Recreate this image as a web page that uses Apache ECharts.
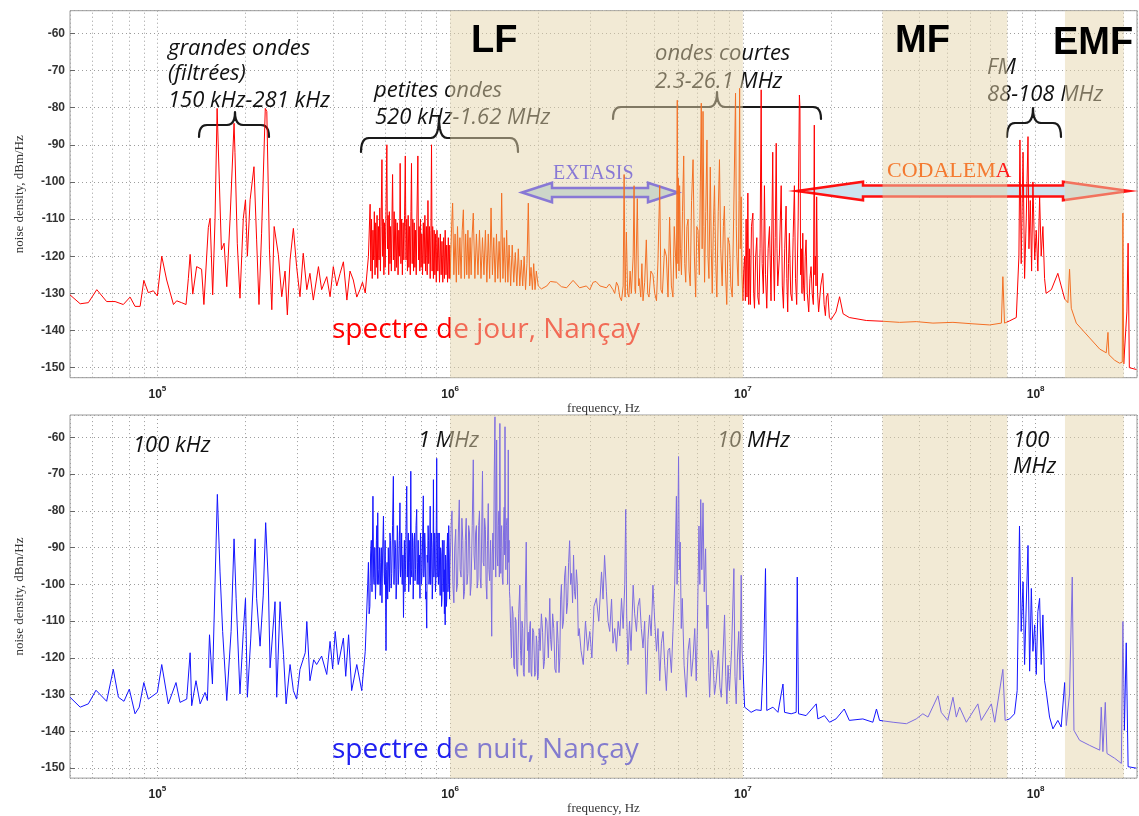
<!DOCTYPE html>
<html>
<head>
<meta charset="utf-8">
<script src="https://cdn.jsdelivr.net/npm/echarts@6/dist/echarts.min.js"></script>
<style>
  html, body { margin: 0; padding: 0; background: #fff; }
  #chart { width: 1139px; height: 816px; }
</style>
</head>
<body>
<div id="chart"></div>
<script>
// frequency axis range (Hz) and level range (dBm/Hz)
var freqMin = 5.03e4, freqMax = 2.22e8;
var levelMin = -152.7, levelMax = -53.9;

// shaded bands (LF, MF, EMF)
var bands = [[1e6, 1e7], [3e7, 8e7], [1.26e8, 2e8]];

// day spectrum [Hz, dBm/Hz]
var dayLow = [
    [5.03e4,-130.4],[5.45e4,-132.8],[5.81e4,-132.5],[6.21e4,-129],[6.71e4,-132.2],[7.17e4,-132.2],
    [7.65e4,-133],[8.07e4,-131],[8.39e4,-133.5],[8.73e4,-133.5],[8.99e4,-126.5],[9.31e4,-129.8],
    [9.69e4,-129.3],[1.0e5,-130.7],[1.035e5,-120],[1.076e5,-126.4],[1.135e5,-133],[1.164e5,-132],
    [1.21e5,-132.5],[1.253e5,-133],[1.276e5,-126],[1.294e5,-119.5],[1.321e5,-130.2],[1.362e5,-122.8],
    [1.416e5,-123.5],[1.442e5,-133],[1.493e5,-112.3],[1.514e5,-109.8],[1.545e5,-130.4],[1.574e5,-110],
    [1.6e5,-80.2],[1.621e5,-80.7],[1.655e5,-118.3],[1.69e5,-116.5],[1.726e5,-128.2],[1.771e5,-110.2],
    [1.828e5,-84.2],[1.841e5,-92],[1.875e5,-116.5],[1.915e5,-131.3],[1.966e5,-109.8],[2.0e5,-104.8],
    [2.03e5,-120],[2.074e5,-104.8],[2.138e5,-95.9],[2.183e5,-115.6],[2.224e5,-133],[2.27e5,-113.8],
    [2.337e5,-80.2],[2.365e5,-81],[2.415e5,-118.3],[2.46e5,-134.4],[2.506e5,-112],[2.59e5,-119.6],
    [2.66e5,-130.9],[2.73e5,-124],[2.78e5,-135.8],[2.84e5,-121],[2.915e5,-112.5],[2.99e5,-122.8],
    [3.07e5,-130.9],[3.15e5,-119.2],[3.24e5,-129],[3.32e5,-124.6],[3.41e5,-131.8],[3.55e5,-122.8],
    [3.64e5,-129],[3.79e5,-125.5],[3.89e5,-130.9],[3.99e5,-122.8],[4.1e5,-128],[4.21e5,-124.6],
    [4.32e5,-121.5],[4.44e5,-131.8],[4.55e5,-124],[4.67e5,-126.4],[4.8e5,-131],[4.92e5,-129],
    [5.02e5,-127],[5.13e5,-129.9],[5.26e5,-120]
];
var dayMW = [
    [5.30e5,-120],[5.33e5,-106],[5.36e5,-124],[5.39e5,-110],[5.42e5,-126],[5.45e5,-113],[5.48e5,-121],
    [5.51e5,-108],[5.54e5,-125],[5.57e5,-111],[5.60e5,-123],[5.63e5,-109],[5.66e5,-126],[5.69e5,-112],
    [5.72e5,-121],[5.75e5,-107],[5.78e5,-124],[5.81e5,-112],[5.85e5,-94],[5.88e5,-120],[5.91e5,-110],
    [5.94e5,-125],[5.97e5,-111],[6.00e5,-123],[6.04e5,-108],[6.08e5,-90],[6.11e5,-118],[6.14e5,-109],
    [6.17e5,-125],[6.20e5,-108],[6.23e5,-122],[6.26e5,-112],[6.30e5,-124],[6.33e5,-110],[6.36e5,-98],
    [6.40e5,-121],[6.44e5,-108],[6.48e5,-124],[6.52e5,-110],[6.56e5,-123],[6.60e5,-111],[6.64e5,-125],
    [6.68e5,-113],[6.72e5,-120],[6.75e5,-95],[6.79e5,-122],[6.83e5,-110],[6.87e5,-125],[6.91e5,-111],
    [6.95e5,-121],[6.99e5,-109],[7.03e5,-93],[7.07e5,-121],[7.11e5,-110],[7.15e5,-124],[7.19e5,-109],
    [7.23e5,-123],[7.27e5,-112],[7.31e5,-125],[7.35e5,-108],[7.38e5,-95],[7.42e5,-122],[7.46e5,-110],
    [7.50e5,-124],[7.54e5,-111],[7.58e5,-123],[7.62e5,-113],[7.66e5,-125],[7.70e5,-110],[7.76e5,-93],
    [7.80e5,-121],[7.84e5,-112],[7.88e5,-124],[7.92e5,-110],[7.96e5,-123],[8.00e5,-114],[8.05e5,-125],
    [8.10e5,-111],[8.15e5,-122],[8.20e5,-109],[8.25e5,-124],[8.30e5,-112],[8.35e5,-125],[8.40e5,-105],
    [8.45e5,-122],[8.50e5,-112],[8.55e5,-126],[8.60e5,-113],[8.64e5,-90],[8.68e5,-124],[8.72e5,-112],
    [8.77e5,-126],[8.82e5,-113],[8.87e5,-125],[8.92e5,-114],[8.97e5,-127],[9.02e5,-113],[9.08e5,-124],
    [9.14e5,-115],[9.20e5,-127],[9.26e5,-114],[9.32e5,-125],[9.38e5,-116],[9.44e5,-127],[9.50e5,-115],
    [9.56e5,-126],[9.62e5,-113],[9.68e5,-125],[9.74e5,-117],[9.80e5,-127],[9.86e5,-115],[9.92e5,-126],
    [9.98e5,-117]
];
var dayLF = [
    [1.000e6,-126],[1.012e6,-112],[1.02e6,-105.7],[1.03e6,-125],[1.04e6,-114],[1.05e6,-127],[1.06e6,-112],
    [1.07e6,-125],[1.08e6,-115],[1.09e6,-126],[1.10e6,-113],[1.11e6,-107.5],[1.12e6,-126],[1.13e6,-114],
    [1.14e6,-125],[1.15e6,-113],[1.16e6,-126],[1.17e6,-115],[1.18e6,-125],[1.19e6,-114],[1.20e6,-108.4],
    [1.215e6,-126],[1.23e6,-114],[1.245e6,-125],[1.26e6,-113],[1.275e6,-126],[1.29e6,-115],[1.305e6,-125],
    [1.32e6,-113],[1.335e6,-127],[1.35e6,-114],[1.365e6,-126],[1.38e6,-107],[1.395e6,-125],[1.41e6,-115],
    [1.425e6,-127],[1.44e6,-114],[1.455e6,-126],[1.47e6,-116],[1.485e6,-127],[1.50e6,-103],[1.515e6,-126],
    [1.53e6,-115],[1.545e6,-127],[1.56e6,-113],[1.575e6,-127],[1.59e6,-117],[1.61e6,-128],[1.63e6,-117],
    [1.65e6,-127],[1.67e6,-119],[1.69e6,-128],[1.71e6,-118],[1.73e6,-128],[1.75e6,-121],[1.77e6,-128],
    [1.79e6,-120],[1.81e6,-129],[1.83e6,-122],[1.85e6,-105.7],[1.87e6,-128],[1.89e6,-123],[1.91e6,-129],
    [1.93e6,-122],[1.95e6,-129],[1.97e6,-124],[2.0e6,-128],
    [2.05e6,-128.8],[2.14e6,-128],[2.2e6,-126.8],[2.31e6,-127],[2.4e6,-128.2],[2.5e6,-128.5],
    [2.63e6,-126.5],[2.7e6,-127.5],[2.77e6,-128.5],[2.92e6,-128],[3.0e6,-129],[3.08e6,-127],[3.15e6,-126.8],
    [3.25e6,-128],[3.42e6,-128.5],[3.5e6,-127.5],[3.6e6,-129],
    [3.65e6,-130],[3.7e6,-127],[3.75e6,-128],[3.8e6,-131],[3.85e6,-132],[3.9e6,-128],[3.93e6,-98],
    [3.96e6,-131],[4.0e6,-113.5],[4.04e6,-130],[4.08e6,-131],[4.12e6,-124],[4.16e6,-130],[4.22e6,-120],
    [4.25e6,-101],[4.28e6,-129],[4.3e6,-130],[4.36e6,-104.5],[4.4e6,-128],[4.42e6,-126],[4.48e6,-131],
    [4.52e6,-122],[4.56e6,-132],[4.62e6,-127],[4.68e6,-115.6],[4.73e6,-130],[4.78e6,-131],[4.85e6,-124],
    [4.93e6,-125],[5.0e6,-130],[5.07e6,-132],[5.13e6,-121],[5.2e6,-101],[5.25e6,-129],[5.31e6,-130],
    [5.4e6,-118],[5.48e6,-120],[5.55e6,-131],[5.62e6,-109.5],[5.7e6,-128],[5.77e6,-131],[5.83e6,-112],
    [5.89e6,-120],[5.93e6,-126],[5.97e6,-78],[6.0e6,-122],[6.02e6,-99],[6.05e6,-124],[6.08e6,-101],
    [6.12e6,-118],[6.17e6,-125],[6.22e6,-108],[6.28e6,-93],[6.33e6,-122],[6.38e6,-127],[6.44e6,-112],
    [6.5e6,-110],[6.55e6,-124],[6.61e6,-128],[6.68e6,-105],[6.76e6,-94],[6.83e6,-120],[6.9e6,-131],
    [6.96e6,-112],[7.03e6,-113],[7.1e6,-125],[7.16e6,-100],[7.21e6,-78.8],[7.26e6,-118],[7.31e6,-81],
    [7.36e6,-112],[7.4e6,-127],[7.47e6,-108],[7.54e6,-88.7],[7.6e6,-120],[7.66e6,-126],[7.74e6,-96],
    [7.8e6,-118],[7.86e6,-130],[7.93e6,-112],[8.0e6,-101],[8.08e6,-122],[8.15e6,-131],[8.24e6,-108],
    [8.32e6,-94],[8.4e6,-118],[8.5e6,-128],[8.58e6,-112],[8.65e6,-106.5],[8.73e6,-125],[8.81e6,-133],
    [8.9e6,-115],[9.01e6,-117],[9.1e6,-128],[9.2e6,-131],[9.3e6,-110],[9.44e6,-76.1],[9.5e6,-112],
    [9.54e6,-120],[9.64e6,-128],[9.7e6,-105],[9.75e6,-74.8],[9.8e6,-118],[9.87e6,-104],[9.93e6,-125],
    [1.0e7,-132]
];
var dayHigh = [
    [1.007e7,-124],[1.014e7,-120],[1.02e7,-132],[1.026e7,-110],[1.033e7,-131],[1.04e7,-103],[1.047e7,-133],
    [1.054e7,-118],[1.061e7,-133],[1.07e7,-112],[1.082e7,-108.4],[1.089e7,-130],[1.096e7,-134],
    [1.106e7,-120],[1.116e7,-115],[1.125e7,-131],[1.135e7,-133],[1.145e7,-118],[1.155e7,-75.2],
    [1.16e7,-110],[1.164e7,-122],[1.175e7,-130],[1.185e7,-101],[1.195e7,-125],[1.207e7,-134],
    [1.22e7,-118],[1.233e7,-112],[1.248e7,-132],[1.265e7,-92],[1.272e7,-120],[1.282e7,-132],
    [1.29e7,-115],[1.3e7,-89.6],[1.308e7,-118],[1.316e7,-128],[1.333e7,-120],[1.352e7,-101],
    [1.364e7,-128],[1.376e7,-134],[1.39e7,-118],[1.405e7,-106.5],[1.413e7,-126],[1.423e7,-135],
    [1.432e7,-122],[1.442e7,-113.8],[1.457e7,-130],[1.472e7,-132],[1.485e7,-115],[1.5e7,-101],
    [1.513e7,-126],[1.527e7,-133],[1.545e7,-110],[1.56e7,-76.6],[1.567e7,-80],[1.575e7,-125],
    [1.584e7,-118],[1.592e7,-130],[1.602e7,-113.8],[1.612e7,-128],[1.623e7,-132],[1.633e7,-120],
    [1.644e7,-115.6],[1.66e7,-130],[1.679e7,-135],[1.695e7,-126],[1.71e7,-122.8],[1.725e7,-130],
    [1.741e7,-133],[1.754e7,-84.7],[1.762e7,-125],[1.769e7,-120],[1.778e7,-128],[1.787e7,-104],
    [1.8e7,-130],[1.815e7,-135],[1.845e7,-128],[1.875e7,-124.6],[1.895e7,-133],[1.914e7,-136],
    [1.93e7,-131],[1.951e7,-130],[1.975e7,-136.5],[2.0e7,-137.1],
    [2.03e7,-137],[2.08e7,-135],[2.14e7,-130.9],[2.2e7,-135.5],[2.31e7,-136.5],[2.64e7,-137.3],
    [3.0e7,-137.5],[3.43e7,-137.8],[3.91e7,-137.6],[4.46e7,-138],[5.22e7,-137.8],[6.11e7,-138.2],
    [6.97e7,-138.5],[7.64e7,-138],[7.73e7,-125.5],[7.83e7,-138],[8.15e7,-137.4],[8.59e7,-136.5],
    [8.77e7,-120],[8.84e7,-88.7],[8.93e7,-122],[9.06e7,-92],[9.17e7,-126],[9.29e7,-110],[9.42e7,-87.8],
    [9.49e7,-118],[9.59e7,-105],[9.69e7,-124],[9.79e7,-100],[9.93e7,-121],[1.005e8,-113],[1.018e8,-124],
    [1.032e8,-104],[1.045e8,-120],[1.059e8,-112],[1.073e8,-126],[1.086e8,-130],[1.132e8,-129],
    [1.191e8,-124.6],[1.223e8,-128],[1.257e8,-131.5],[1.289e8,-132.5],[1.306e8,-123.5],[1.324e8,-134],
    [1.377e8,-138],[1.53e8,-142],[1.656e8,-145],[1.743e8,-146],[1.767e8,-140.5],[1.78e8,-146.5],
    [1.862e8,-148],[1.936e8,-148.8],[1.977e8,-148.5],[1.987e8,-108.4],[2.0e8,-149],[2.05e8,-135],
    [2.07e8,-116.5],[2.09e8,-150],[2.21e8,-150.5]
];

// night spectrum [Hz, dBm/Hz]
var nightLow = [
    [5.03e4,-130.7],[5.45e4,-133.4],[5.81e4,-132.5],[6.17e4,-128.8],[6.71e4,-131.8],[7.07e4,-123.1],
    [7.36e4,-130.7],[7.69e4,-131.8],[8.02e4,-128.5],[8.39e4,-135.2],[8.67e4,-133.4],[8.99e4,-126.7],
    [9.31e4,-131.2],[1.0e5,-129.4],[1.035e5,-121.8],[1.09e5,-132.5],[1.158e5,-126.7],[1.195e5,-132.1],
    [1.26e5,-131.2],[1.294e5,-118.6],[1.31e5,-133],[1.355e5,-126.2],[1.4e5,-132.5],[1.455e5,-129.4],
    [1.482e5,-131.6],[1.507e5,-113.7],[1.542e5,-127.1],[1.603e5,-75.5],[1.637e5,-96.6],[1.671e5,-112.8],
    [1.726e5,-131.6],[1.786e5,-112.8],[1.828e5,-87.6],[1.858e5,-103.8],[1.915e5,-129.8],[1.966e5,-112.8],
    [2.0e5,-103.8],[2.03e5,-130.7],[2.085e5,-114.6],[2.158e5,-87.6],[2.183e5,-103.8],[2.243e5,-116.8],
    [2.3e5,-102.9],[2.344e5,-83.2],[2.393e5,-99.3],[2.427e5,-122.7],[2.523e5,-104.7],[2.557e5,-130.7],
    [2.625e5,-104.7],[2.697e5,-119.1],[2.753e5,-132.5],[2.84e5,-121.8],[2.915e5,-128.9],[2.99e5,-131.2],
    [3.07e5,-123.1],[3.2e5,-118.6],[3.24e5,-110.1],[3.32e5,-126.2],[3.42e5,-120.5],[3.5e5,-121.8],
    [3.64e5,-119.5],[3.79e5,-124.5],[3.89e5,-115.5],[3.97e5,-123],[4.05e5,-112.8],[4.15e5,-121.8],
    [4.32e5,-114.6],[4.4e5,-125],[4.5e5,-113.7],[4.61e5,-128.9],[4.8e5,-121.8],[4.99e5,-128.9],
    [5.13e5,-118.2]
];
var nightMW = [
    [5.20e5,-118],[5.23e5,-100],[5.26e5,-94],[5.29e5,-108],[5.32e5,-106],[5.35e5,-92],[5.38e5,-88],
    [5.41e5,-102],[5.45e5,-76],[5.48e5,-98],[5.50e5,-100],[5.53e5,-90],[5.56e5,-104],[5.58e5,-98],
    [5.60e5,-88],[5.62e5,-84],[5.64e5,-100],[5.66e5,-80.5],[5.68e5,-96],[5.71e5,-100],[5.74e5,-90],
    [5.77e5,-103],[5.80e5,-94],[5.82e5,-90],[5.85e5,-105],[5.88e5,-92],[5.92e5,-81.4],[5.95e5,-97],
    [5.97e5,-100],[6.00e5,-88],[6.04e5,-118],[6.07e5,-96],[6.09e5,-94],[6.12e5,-104],[6.15e5,-90],
    [6.18e5,-98],[6.20e5,-102],[6.23e5,-86],[6.26e5,-88],[6.29e5,-101],[6.32e5,-97],[6.36e5,-84],
    [6.40e5,-70.6],[6.43e5,-100],[6.45e5,-96],[6.48e5,-88],[6.51e5,-90],[6.54e5,-104],[6.57e5,-99.4],
    [6.60e5,-84],[6.62e5,-86],[6.65e5,-100],[6.68e5,-96],[6.71e5,-88],[6.74e5,-77.8],[6.77e5,-98],
    [6.80e5,-95],[6.83e5,-86],[6.86e5,-100],[6.90e5,-92],[6.93e5,-109],[6.96e5,-94],[6.98e5,-88],
    [7.01e5,-102],[7.04e5,-96],[7.07e5,-85],[7.11e5,-73.3],[7.14e5,-98],[7.17e5,-92],[7.20e5,-86],
    [7.22e5,-102],[7.25e5,-94],[7.28e5,-88],[7.31e5,-100],[7.34e5,-69.2],[7.37e5,-96],[7.40e5,-98],
    [7.43e5,-86],[7.45e5,-90],[7.48e5,-104],[7.50e5,-100],[7.53e5,-88],[7.56e5,-86],[7.59e5,-99],
    [7.62e5,-96],[7.65e5,-84],[7.69e5,-79.6],[7.72e5,-100],[7.75e5,-94],[7.78e5,-88],[7.82e5,-100],
    [7.85e5,-92],[7.89e5,-103.8],[7.92e5,-86],[7.95e5,-89],[7.98e5,-100],[8.02e5,-97],[8.06e5,-86],
    [8.10e5,-75.9],[8.13e5,-98],[8.16e5,-95],[8.19e5,-86],[8.22e5,-90],[8.25e5,-104],[8.28e5,-102],
    [8.32e5,-111.9],[8.35e5,-92],[8.38e5,-94],[8.41e5,-84],[8.44e5,-88],[8.47e5,-100],[8.50e5,-98],
    [8.53e5,-86],[8.55e5,-78.7],[8.58e5,-100],[8.60e5,-96],[8.63e5,-86],[8.66e5,-90],[8.69e5,-104],
    [8.72e5,-100],[8.75e5,-88],[8.77e5,-71.5],[8.80e5,-98],[8.83e5,-95],[8.86e5,-86],[8.88e5,-88],
    [8.91e5,-102],[8.94e5,-99],[8.97e5,-84],[9.00e5,-65.7],[9.03e5,-98],[9.06e5,-92],[9.09e5,-86],
    [9.12e5,-100],[9.15e5,-96],[9.18e5,-86],[9.21e5,-98],[9.25e5,-103],[9.28e5,-90],[9.32e5,-92],
    [9.35e5,-106],[9.38e5,-104],[9.41e5,-88],[9.44e5,-90],[9.47e5,-102],[9.50e5,-98],[9.53e5,-88],
    [9.56e5,-108],[9.59e5,-96],[9.62e5,-111],[9.65e5,-92],[9.68e5,-94],[9.71e5,-106],[9.74e5,-104],
    [9.77e5,-90],[9.80e5,-86],[9.83e5,-102],[9.86e5,-100],[9.89e5,-84],[9.93e5,-92],[9.96e5,-104]
];
var nightLF = [
    [1.000e6,-95],[1.008e6,-84],[1.015e6,-80],[1.022e6,-100],[1.03e6,-105],[1.037e6,-90],[1.045e6,-85],
    [1.052e6,-102],[1.06e6,-100],[1.067e6,-86],[1.075e6,-77],[1.082e6,-96],[1.09e6,-98],[1.097e6,-82],
    [1.105e6,-88],[1.112e6,-104],[1.12e6,-102],[1.127e6,-88],[1.135e6,-82],[1.142e6,-100],[1.15e6,-97],
    [1.157e6,-84],[1.165e6,-86],[1.172e6,-103],[1.18e6,-100],[1.19e6,-84],[1.2e6,-66.1],[1.207e6,-92],
    [1.215e6,-96],[1.222e6,-86],[1.23e6,-84],[1.237e6,-101],[1.245e6,-99],[1.252e6,-84],[1.26e6,-80],
    [1.267e6,-98],[1.275e6,-101],[1.282e6,-86],[1.29e6,-69.2],[1.297e6,-94],[1.305e6,-95],[1.312e6,-82],
    [1.32e6,-85],[1.327e6,-100],[1.335e6,-104],[1.342e6,-88],[1.35e6,-78],[1.357e6,-96],[1.365e6,-99],
    [1.375e6,-88],[1.387e6,-114.1],[1.393e6,-92],[1.40e6,-86],[1.408e6,-96],[1.415e6,-70],[1.423e6,-54.4],
    [1.428e6,-90],[1.432e6,-98],[1.437e6,-80],[1.442e6,-60.7],[1.448e6,-92],[1.455e6,-95],[1.461e6,-84],
    [1.467e6,-80],[1.473e6,-98],[1.479e6,-56.2],[1.485e6,-90],[1.49e6,-97],[1.495e6,-86],[1.50e6,-84],
    [1.507e6,-98],[1.515e6,-100],[1.522e6,-86],[1.53e6,-79],[1.535e6,-92],[1.54e6,-57.1],[1.545e6,-88],
    [1.55e6,-96],[1.557e6,-84],[1.565e6,-82],[1.572e6,-100],[1.58e6,-63.4],[1.585e6,-94],[1.59e6,-88],
    [1.595e6,-102],[1.60e6,-103.8],
    [1.61e6,-112],[1.62e6,-120],[1.63e6,-106],[1.64e6,-108],[1.65e6,-122],[1.66e6,-123],[1.67e6,-109],
    [1.68e6,-110],[1.69e6,-124],[1.70e6,-125],[1.715e6,-108],[1.73e6,-100.2],[1.74e6,-118],[1.75e6,-122],
    [1.76e6,-110],[1.77e6,-112],[1.78e6,-124],[1.79e6,-125],[1.805e6,-105],[1.82e6,-88.5],[1.83e6,-110],
    [1.84e6,-118],[1.85e6,-113],[1.86e6,-124],[1.87e6,-112],[1.88e6,-110],[1.89e6,-124],[1.90e6,-125],
    [1.915e6,-112],[1.93e6,-113],[1.945e6,-125],[1.96e6,-124],[1.97e6,-114],[1.98e6,-116],[1.99e6,-126],
    [2.0e6,-125],
    [2.015e6,-112],[2.03e6,-118],[2.05e6,-108],[2.07e6,-113],[2.085e6,-123],[2.1e6,-121],[2.12e6,-109],
    [2.14e6,-110],[2.165e6,-120],[2.19e6,-103.8],[2.205e6,-115],[2.22e6,-118],[2.24e6,-108],[2.26e6,-112],
    [2.28e6,-123],[2.3e6,-124],[2.32e6,-110],[2.34e6,-116],[2.355e6,-124],[2.37e6,-120],[2.385e6,-104],
    [2.4e6,-100],[2.42e6,-112],[2.44e6,-110],[2.46e6,-98],[2.48e6,-95],[2.5e6,-108],[2.52e6,-105],
    [2.54e6,-94],[2.56e6,-88.1],[2.58e6,-100],[2.6e6,-97],[2.62e6,-105],[2.64e6,-92],[2.66e6,-102],
    [2.68e6,-104],[2.7e6,-96],[2.72e6,-100],[2.74e6,-114],[2.76e6,-112],[2.8e6,-118],[2.85e6,-121.8],
    [2.9e6,-110],[2.95e6,-118],[3.0e6,-112.8],[3.05e6,-120],[3.1e6,-106],[3.16e6,-103.8],[3.22e6,-110],
    [3.29e6,-96.6],[3.33e6,-104],[3.37e6,-92.1],[3.42e6,-102],[3.46e6,-110],[3.51e6,-112.8],[3.56e6,-104],
    [3.6e6,-116],[3.65e6,-112],[3.7e6,-118.2],[3.75e6,-110],[3.8e6,-114],[3.85e6,-103.8],[3.9e6,-112],
    [3.95e6,-100],[3.98e6,-79.6],[4.01e6,-108],[4.05e6,-121.8],[4.1e6,-110],[4.15e6,-118],[4.22e6,-100.2],
    [4.27e6,-108],[4.33e6,-112.8],[4.38e6,-106],[4.44e6,-103.8],[4.5e6,-112],[4.56e6,-117.3],[4.62e6,-110],
    [4.68e6,-129.8],[4.74e6,-115],[4.8e6,-108.3],[4.86e6,-114],[4.93e6,-100.2],[5.0e6,-110],[5.07e6,-118.2],
    [5.13e6,-112],[5.2e6,-126.2],[5.27e6,-116],[5.34e6,-112.8],[5.41e6,-122],[5.48e6,-128.9],[5.55e6,-118],
    [5.62e6,-117.3],[5.7e6,-124],[5.77e6,-112.8],[5.85e6,-100],[5.93e6,-76],[5.96e6,-100],[5.99e6,-90.3],
    [6.03e6,-65.2],[6.07e6,-96],[6.11e6,-88.5],[6.16e6,-112],[6.21e6,-103.8],[6.3e6,-122],[6.41e6,-130.7],
    [6.5e6,-118],[6.58e6,-114.6],[6.67e6,-125],[6.76e6,-120],[6.85e6,-112],[6.93e6,-126.2],[7.0e6,-110],
    [7.08e6,-84.1],[7.13e6,-100],[7.18e6,-76.9],[7.24e6,-96],[7.31e6,-77.8],[7.38e6,-102],[7.46e6,-90.3],
    [7.53e6,-112],[7.6e6,-105.6],[7.65e6,-124],[7.7e6,-130.7],[7.8e6,-118],[7.9e6,-120],[8.0e6,-130],
    [8.11e6,-126.2],[8.25e6,-118],[8.35e6,-128],[8.44e6,-130.7],[8.55e6,-120],[8.66e6,-108.3],
    [8.74e6,-125],[8.82e6,-132.5],[8.9e6,-122],[9.0e6,-128.9],[9.15e6,-118],[9.32e6,-95.7],[9.4e6,-125],
    [9.49e6,-132.5],[9.58e6,-120],[9.68e6,-112.8],[9.78e6,-126],[9.87e6,-97.5],[9.94e6,-118],[1.0e7,-121.8]
];
var nightHigh = [
    [1.014e7,-133.4],[1.026e7,-133.9],[1.067e7,-134.8],[1.11e7,-134.1],[1.155e7,-134.3],[1.178e7,-119.1],
    [1.195e7,-95.7],[1.207e7,-134.3],[1.267e7,-133.4],[1.318e7,-134.8],[1.371e7,-127.1],[1.388e7,-134.8],
    [1.462e7,-135.2],[1.521e7,-134.8],[1.534e7,-98],[1.549e7,-135.2],[1.644e7,-135.7],[1.781e7,-132.5],
    [1.804e7,-136.6],[1.9e7,-135.7],[1.977e7,-137.5],[2.08e7,-136.6],[2.22e7,-133.9],[2.31e7,-137],
    [2.57e7,-136.6],[2.78e7,-137.5],[2.86e7,-133.9],[2.93e7,-137],[3.26e7,-137.5],[3.62e7,-137.9],
    [3.91e7,-136.6],[4.12e7,-135.2],[4.29e7,-136.1],[4.64e7,-130.3],[4.76e7,-134.8],[5.01e7,-137],
    [5.22e7,-130.7],[5.36e7,-136.1],[5.5e7,-133.4],[5.8e7,-137.5],[6.35e7,-132.5],[6.52e7,-137],
    [7.06e7,-132.5],[7.25e7,-137.5],[7.73e7,-123.1],[7.87e7,-137],[8.15e7,-136.6],[8.47e7,-135.2],
    [8.65e7,-128.9],[8.81e7,-84.1],[8.93e7,-112.8],[9.06e7,-99.3],[9.17e7,-121.8],[9.29e7,-105.6],
    [9.42e7,-89.4],[9.54e7,-123.6],[9.67e7,-101.1],[9.79e7,-118.2],[9.93e7,-111],[1.005e8,-124.5],
    [1.018e8,-107.4],[1.032e8,-103.8],[1.045e8,-121.8],[1.059e8,-108.3],[1.073e8,-126.2],[1.086e8,-128.9],
    [1.116e8,-136.1],[1.146e8,-139.3],[1.191e8,-137],[1.223e8,-138.8],[1.257e8,-126.7],[1.273e8,-138.4],
    [1.306e8,-129.8],[1.334e8,-98],[1.352e8,-139.7],[1.413e8,-142.4],[1.53e8,-143.8],[1.656e8,-145.1],
    [1.676e8,-133.4],[1.698e8,-145.5],[1.73e8,-132.1],[1.753e8,-146],[1.862e8,-147.3],[1.963e8,-148.7],
    [1.987e8,-110.1],[2.01e8,-139.7],[2.04e8,-115.9],[2.07e8,-149.6],[2.21e8,-150]
];

var daySpectrum = dayLow.concat(dayMW, dayLF, dayHigh);
var nightSpectrum = nightLow.concat(nightMW, nightLF, nightHigh);

// minor vertical grid lines (2..9 x 10^n)
var minorGrid = [];
[1e4, 1e5, 1e6, 1e7, 1e8].forEach(function (d) {
    for (var k = 2; k <= 9; k++) {
        var v = k * d;
        if (v > freqMin && v < freqMax) minorGrid.push({ xAxis: v });
    }
});

var chart = echarts.init(document.getElementById('chart'), null, { renderer: 'canvas' });

var gridRects = [
    { left: 70, top: 10.7, width: 1067, height: 367, show: true, borderColor: '#9a9a9a', borderWidth: 1 },
    { left: 70, top: 415, width: 1067, height: 367, show: true, borderColor: '#9a9a9a', borderWidth: 1 }
];

var dotted = { type: [1, 3], color: '#9d9d9d', width: 1 };

function powLabel(v) {
    var e = Math.log10(v);
    var n = Math.round(e);
    if (Math.abs(e - n) > 1e-6) return '';
    return '{b|10}{s|' + n + '}';
}

function xAxisFor(i) {
    return {
        type: 'log', logBase: 10, gridIndex: i, min: freqMin, max: freqMax,
        name: 'frequency, Hz', nameLocation: 'middle', nameGap: 19,
        nameTextStyle: { fontFamily: 'Liberation Serif', fontSize: 13, color: '#333' },
        axisLine: { show: false }, axisTick: { show: false },
        axisLabel: {
            margin: 7, formatter: powLabel, showMinLabel: false, showMaxLabel: false,
            rich: {
                b: { fontSize: 12, fontWeight: 'bold', color: '#222', fontFamily: 'Liberation Sans', lineHeight: 16, verticalAlign: 'bottom' },
                s: { fontSize: 8, fontWeight: 'bold', color: '#222', fontFamily: 'Liberation Sans', lineHeight: 16, verticalAlign: 'top' }
            }
        },
        splitLine: { show: true, lineStyle: dotted }
    };
}

function yAxisFor(i) {
    return {
        type: 'value', gridIndex: i, min: levelMin, max: levelMax, splitNumber: 10,
        name: 'noise density, dBm/Hz', nameLocation: 'middle', nameGap: 44,
        nameTextStyle: { fontFamily: 'Liberation Serif', fontSize: 13, color: '#333' },
        axisLine: { show: false },
        axisTick: { show: true, inside: true, length: 5, lineStyle: { color: '#666' } },
        axisLabel: {
            margin: 5, fontSize: 12, fontWeight: 'bold', color: '#333', fontFamily: 'Liberation Sans',
            showMinLabel: false, showMaxLabel: false,
            formatter: function (v) { return Math.abs(v % 10) < 1e-9 ? String(v) : ''; }
        },
        splitLine: { show: true, lineStyle: dotted }
    };
}

function spectrumSeries(i, data) {
    return {
        type: 'line', xAxisIndex: i, yAxisIndex: i, data: data, z: 11,
        symbol: 'none', showSymbol: false, sampling: null, silent: true,
        lineStyle: { width: 1 }
    };
}

// line colour changes inside the shaded bands
function bandPieces(inColor, outColor) {
    var pieces = [{ lt: bands[0][0], color: outColor }];
    bands.forEach(function (b, k) {
        pieces.push({ gte: b[0], lt: b[1], color: inColor });
        var next = k + 1 < bands.length ? bands[k + 1][0] : null;
        pieces.push(next ? { gte: b[1], lt: next, color: outColor } : { gte: b[1], color: outColor });
    });
    return pieces;
}

function minorGridSeries(i) {
    return {
        type: 'line', xAxisIndex: i, yAxisIndex: i, data: [], z: 1, silent: true,
        markLine: {
            z: 1, silent: true, symbol: ['none', 'none'], label: { show: false },
            lineStyle: dotted, animation: false, data: minorGrid
        }
    };
}

function bandSeries(i) {
    return {
        type: 'line', xAxisIndex: i, yAxisIndex: i, data: [], z: 10, silent: true,
        markArea: {
            z: 10, silent: true, label: { show: false },
            itemStyle: { color: 'rgba(229,213,172,0.5)' },
            data: bands.map(function (b) { return [{ xAxis: b[0] }, { xAxis: b[1] }]; })
        }
    };
}

// text annotations: x = left edge, b = baseline
function txt(s, x, b, size, color, style, family, z) {
    return {
        type: 'text', x: x, y: b - 0.3 * size, z: z || 3, silent: true,
        style: {
            text: s, fill: color,
            font: (style || '') + ' ' + size + 'px ' + (family || '"Open Sans"'),
            align: 'left', verticalAlign: 'middle'
        }
    };
}

function quad(pts, p0, c, p1) {
    for (var t = 1; t <= 6; t++) {
        var u = t / 6;
        pts.push([
            (1 - u) * (1 - u) * p0[0] + 2 * (1 - u) * u * c[0] + u * u * p1[0],
            (1 - u) * (1 - u) * p0[1] + 2 * (1 - u) * u * c[1] + u * u * p1[1]
        ]);
    }
}

function brace(x1, x2, xc, yTop, yBar, yEnd) {
    var r = 8;
    var pts = [[x1, yEnd]];
    quad(pts, [x1, yEnd], [x1, yBar], [x1 + r, yBar]);
    pts.push([xc - r, yBar]);
    quad(pts, [xc - r, yBar], [xc, yBar], [xc, yTop]);
    quad(pts, [xc, yTop], [xc, yBar], [xc + r, yBar]);
    pts.push([x2 - r, yBar]);
    quad(pts, [x2 - r, yBar], [x2, yBar], [x2, yEnd]);
    return {
        type: 'polyline', z: 3, silent: true, shape: { points: pts },
        style: { stroke: '#1a1a1a', lineWidth: 2.2, fill: null, lineJoin: 'round', lineCap: 'round' }
    };
}

function dblArrow(xl, xr, yc, head, hh, sh, stroke, fill) {
    return {
        type: 'polygon', z: 3, silent: true,
        shape: { points: [
            [xl, yc], [xl + head, yc - hh], [xl + head, yc - sh], [xr - head, yc - sh], [xr - head, yc - hh],
            [xr, yc], [xr - head, yc + hh], [xr - head, yc + sh], [xl + head, yc + sh], [xl + head, yc + hh]
        ] },
        style: { fill: fill, stroke: stroke, lineWidth: 2.5, lineJoin: 'miter' }
    };
}

var it = 'italic';
var graphics = [
    txt('grandes ondes', 168, 55, 22, '#111', it),
    txt('(filtrées)', 168, 80, 22, '#111', it),
    txt('150 kHz-281 kHz', 168, 107, 22, '#111', it),
    txt('petites ondes', 374, 97, 22, '#111', it),
    txt('520 kHz-1.62 MHz', 375, 124, 22, '#111', it),
    txt('ondes courtes', 655, 60, 22, '#111', it),
    txt('2.3-26.1 MHz', 655, 88, 22, '#111', it),
    txt('FM', 987, 74, 22, '#111', it),
    txt('88-108 MHz', 987, 101, 22, '#111', it),
    txt('spectre de jour, Nançay', 332, 338, 28, '#ff0000'),
    txt('EXTASIS', 553, 180, 20, '#2a1aff', '', '"Liberation Serif"'),
    txt('CODALEM', 887, 178, 22, '#f47a30', '', '"Liberation Serif"', 20),
    txt('A', 995.5, 178, 22, '#ff1a1a', '', '"Liberation Serif"', 20),
    brace(199, 269, 235, 112, 125, 137),
    brace(361, 518, 439, 117, 138, 152),
    brace(613, 821, 717, 92, 107, 119),
    brace(1007, 1061, 1033, 108, 123, 137),
    dblArrow(522, 678, 192.5, 30, 9.7, 4.6, '#2a1aff', '#b4d7e6'),
    dblArrow(797, 1129, 191, 66, 9.3, 5.5, '#ff1010', '#cde3ef'),
    txt('100 kHz', 133, 452, 22, '#111', it),
    txt('1 MHz', 418, 447, 22, '#111', it),
    txt('10 MHz', 717, 447, 22, '#111', it),
    txt('100', 1013, 447, 22, '#111', it),
    txt('MHz', 1013, 473, 22, '#111', it),
    txt('spectre de nuit, Nançay', 332, 758, 28, '#2020f0'),
    txt('LF', 471, 53, 38, '#000', 'bold', '"Liberation Sans"', 20),
    txt('MF', 895, 53, 38, '#000', 'bold', '"Liberation Sans"', 20),
    txt('EMF', 1053, 55, 38, '#000', 'bold', '"Liberation Sans"', 20)
];

chart.setOption({
    animation: false,
    backgroundColor: '#fff',
    grid: gridRects,
    xAxis: [xAxisFor(0), xAxisFor(1)],
    yAxis: [yAxisFor(0), yAxisFor(1)],
    visualMap: [
        { type: 'piecewise', show: false, seriesIndex: 2, dimension: 0, pieces: bandPieces('#f36f24', '#ff0000') },
        { type: 'piecewise', show: false, seriesIndex: 3, dimension: 0, pieces: bandPieces('#7d6ce0', '#1414ff') }
    ],
    series: [
        minorGridSeries(0), minorGridSeries(1),
        spectrumSeries(0, daySpectrum),
        spectrumSeries(1, nightSpectrum),
        bandSeries(0), bandSeries(1)
    ],
    graphic: graphics
});
</script>
</body>
</html>
